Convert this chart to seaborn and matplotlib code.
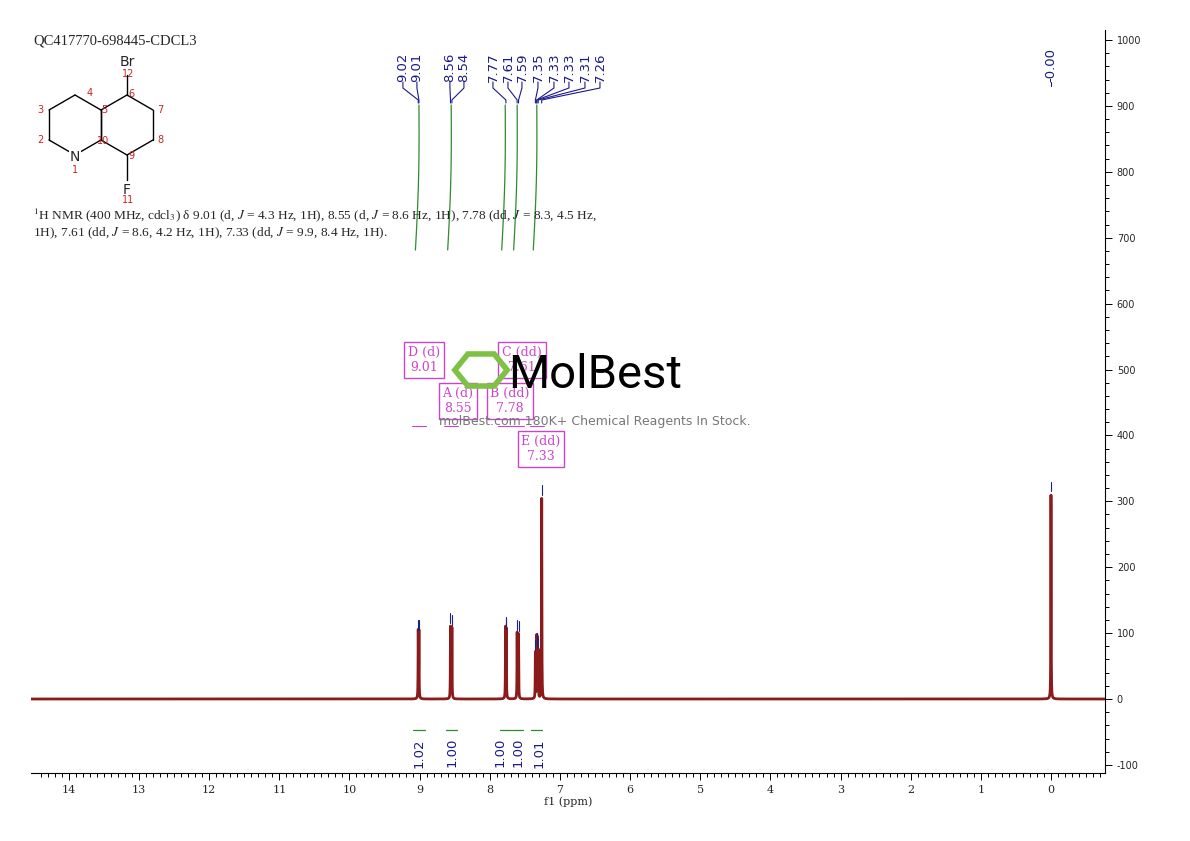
import numpy as np
import pandas as pd
import matplotlib
matplotlib.use("Agg")
import matplotlib.pyplot as plt
import seaborn as sns
from matplotlib.patches import RegularPolygon

sns.set_theme(style="white")
plt.rcParams['font.family'] = ['DejaVu Sans']
plt.rcParams['mathtext.fontset'] = 'stix'

# peak data (ppm, height)
peak_ppm = [9.02, 9.01, 8.56, 8.54, 7.775, 7.765, 7.61, 7.59, 7.35, 7.33, 7.325, 7.31, 7.26, 0.00]
peak_height = [100, 100, 110, 108, 105, 102, 100, 98, 70, 80, 75, 72, 305, 310]
peak_labels = ["9.02", "9.01", "8.56", "8.54", "7.77", "7.61", "7.59", "7.35", "7.33", "7.33", "7.31", "7.26"]
label_ppm_targets = [9.02, 9.01, 8.56, 8.54, 7.77, 7.61, 7.59, 7.35, 7.33, 7.33, 7.31, 7.26]
label_pixel_x = [403, 417, 450, 464, 493, 508, 522, 538, 554, 569, 585, 600]
ref_label = "-0.00"
integ_ppm = [9.01, 8.55, 7.78, 7.61, 7.33]
integ_vals = ["1.02", "1.00", "1.00", "1.00", "1.01"]
integ_label_px = [419, 452, 500, 518, 539]
mult_names = ["D (d)\n9.01", "A (d)\n8.55", "B (dd)\n7.78", "C (dd)\n7.61", "E (dd)\n7.33"]
mult_ppm = [9.01, 8.55, 7.78, 7.61, 7.33]

def px2ppm(px):
    return 14 - (px - 69) / 70.14

def py2val(py):
    return (699 - py) / 0.659

ppm = np.linspace(14.54, -0.77, 30000)
width = 0.0025
inten = np.zeros_like(ppm)
for p, h in zip(peak_ppm, peak_height):
    inten += h * width**2 / ((ppm - p)**2 + width**2)
df = pd.DataFrame({"ppm": ppm, "I": inten})

fig = plt.figure(figsize=(11.9, 8.41), dpi=100)
ax = fig.add_axes([31/1190, 1-773/841, (1105-31)/1190, (773-30)/841])
sns.lineplot(data=df, x="ppm", y="I", ax=ax, color="#8b1a1a", lw=2.0, estimator=None, sort=False)
ax.set_xlim(14.54, -0.77)
ax.set_ylim(py2val(773), py2val(30))
ax.set_xticks(range(0, 15))
ax.set_xticklabels([str(i) for i in range(0, 15)], fontsize=8, family="serif")
ax.set_xticks(np.arange(-0.7, 14.5, 0.1), minor=True)
ax.set_xlabel("f1 (ppm)", fontsize=8, family="serif", labelpad=1)
ax.set_ylabel("")
ax.yaxis.tick_right()
ax.set_yticks(range(-100, 1001, 100))
ax.set_yticklabels([str(v) for v in range(-100, 1001, 100)], fontsize=7)
ax.set_yticks(range(-100, 1001, 20), minor=True)
ax.tick_params(axis="both", which="both", direction="out", length=3, width=0.7, color="black", bottom=True, right=True, left=False)
ax.tick_params(axis="both", which="major", length=5)
for s in ["top", "left"]:
    ax.spines[s].set_visible(False)
for s in ["bottom", "right"]:
    ax.spines[s].set_color("black"); ax.spines[s].set_linewidth(0.8)

for p, h in zip(peak_ppm, peak_height):
    ax.plot([p, p], [h + 5, h + 20], color="#1a237e", lw=0.8)

blue = "#1a1a8c"
for lab, tgt, px in zip(peak_labels, label_ppm_targets, label_pixel_x):
    lx = px2ppm(px)
    ax.text(lx, py2val(82), lab, rotation=90, ha="center", va="bottom", color=blue, fontsize=9.5)
    ax.plot([lx, lx, tgt, tgt], [py2val(82), py2val(88), py2val(100), py2val(103)], color=blue, lw=0.8)
ax.text(0.0, py2val(82), ref_label, rotation=90, ha="center", va="bottom", color=blue, fontsize=9.5)
ax.plot([0, 0], [py2val(82), py2val(86)], color=blue, lw=0.8)

green = "#2e8b2e"
t = np.linspace(0, 1, 50)
for p in integ_ppm:
    yy = py2val(250) + (py2val(105) - py2val(250)) * t
    xx = p + 0.05 * (1 - t) - 0.02 * np.sin(np.pi * t)
    ax.plot(xx, yy, color=green, lw=0.9)
    ax.plot([p - 0.08, p + 0.08], [py2val(730), py2val(730)], color=green, lw=0.9)
for px, v in zip(integ_label_px, integ_vals):
    ax.text(px2ppm(px), py2val(738), v, rotation=90, ha="center", va="top", color=blue, fontsize=9.5)

mag = "#cc44cc"
box_pos = [(424, 360), (458, 401), (510, 401), (522, 360), (541, 449)]
for name, (bx, by), p in zip(mult_names, box_pos, mult_ppm):
    ax.text(px2ppm(bx), py2val(by), name, ha="center", va="center", fontsize=9, family="serif",
            color=mag, bbox=dict(boxstyle="square,pad=0.3", fc="white", ec=mag, lw=1))
    ax.plot([p - 0.1, p + 0.1], [py2val(426), py2val(426)], color=mag, lw=0.8)

fig.text(508/1190, 1-375/841, "MolBest", fontsize=34, color="black", va="center", ha="left",
         family="Roboto", fontstretch="condensed")
fig.patches.append(RegularPolygon((481/1190, 1-370/841), 6, radius=0.022, orientation=np.pi/6,
                                  transform=fig.transFigure, fill=False, ec="#7dc242", lw=4))
fig.text(595/1190, 1-421/841, "molBest.com 180K+ Chemical Reagents In Stock.", fontsize=9, color="#777777", ha="center", va="center")

fig.text(33/1190, 1-41/841, "QC417770-698445-CDCL3", fontsize=10.5, family="Liberation Serif", va="center")
fig.text(33/1190, 1-215/841, r"$^{1}$H NMR (400 MHz, cdcl$_3$) δ 9.01 (d, $J$ = 4.3 Hz, 1H), 8.55 (d, $J$ = 8.6 Hz, 1H), 7.78 (dd, $J$ = 8.3, 4.5 Hz,",
         fontsize=9.6, family="Liberation Serif", va="center")
fig.text(33/1190, 1-233/841, r"1H), 7.61 (dd, $J$ = 8.6, 4.2 Hz, 1H), 7.33 (dd, $J$ = 9.9, 8.4 Hz, 1H).",
         fontsize=9.6, family="Liberation Serif", va="center")

sax = fig.add_axes([0, 0, 1, 1]); sax.set_xlim(0, 1190); sax.set_ylim(841, 0); sax.axis("off")
r = 30
def hexv(cx, cy):
    return [(cx + r*np.cos(np.radians(a)), cy + r*np.sin(np.radians(a))) for a in [-90, -30, 30, 90, 150, 210]]
L = hexv(75, 125); R = hexv(127, 125)
for pts in (L, R):
    for i in range(6):
        a, b = pts[i], pts[(i+1) % 6]
        sax.plot([a[0], b[0]], [a[1], b[1]], color="black", lw=1)
sax.plot([R[0][0], R[0][0]], [R[0][1], 75], color="black", lw=1)
sax.plot([R[3][0], R[3][0]], [R[3][1], 180], color="black", lw=1)
sax.text(R[0][0], 62, "Br", ha="center", va="center", fontsize=10)
sax.text(R[3][0], 190, "F", ha="center", va="center", fontsize=10)
sax.text(75, 157, "N", ha="center", va="center", fontsize=10, bbox=dict(fc="white", ec="none", pad=0.5))
red = "#cc2222"
for s, (x, y) in {"1": (75, 170), "2": (40, 140), "3": (40, 110), "4": (90, 93), "5": (104, 110), "6": (131, 94),
                  "7": (160, 110), "8": (160, 140), "9": (131, 156), "10": (103, 141), "11": (128, 200), "12": (128, 74)}.items():
    sax.text(x, y, s, color=red, fontsize=7, ha="center", va="center")

fig.savefig("out.png", dpi=100, facecolor="white")
